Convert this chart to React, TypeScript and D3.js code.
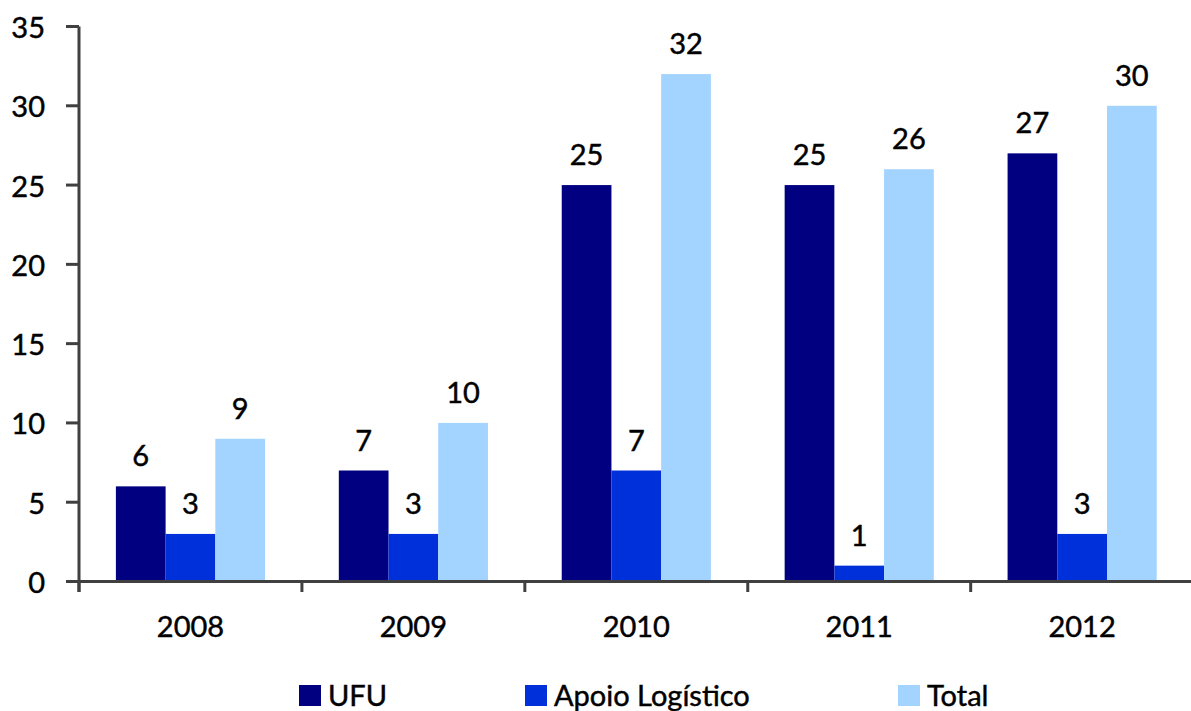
import React from "react";
import * as d3 from "d3";

const categories = ["2008", "2009", "2010", "2011", "2012"];
const seriesNames = ["UFU", "Apoio Logístico", "Total"];
const ufu = [6, 7, 25, 25, 27];
const apoio = [3, 3, 7, 1, 3];
const total = [9, 10, 32, 26, 30];
const yTicks = [0, 5, 10, 15, 20, 25, 30, 35];
const colors = ["#000080", "#0030DA", "#A3D3FF"];

const W = 1191;
const H = 711;
const FONT = "Lato, 'Open Sans', sans-serif";

// Slightly heavier text rendering via a thin outline
const textStyle = { stroke: "#000", strokeWidth: 0.45 };

export default function App() {
  const values = [ufu, apoio, total];
  const y = d3.scaleLinear().domain([0, 35]).range([581.5, 26.5]);
  const x = d3.scaleBand<string>().domain(categories).range([79, 1193.6]).padding(0);
  const step = x.bandwidth();
  const groupPad = step * 0.1655;
  const xs = d3
    .scaleBand<string>()
    .domain(seriesNames)
    .range([groupPad, step - groupPad])
    .padding(0);
  const axisColor = "#404040";
  const boundaries = categories.map((c) => x(c) as number).concat([x.range()[1]]);
  const legendX = [299, 525, 898];

  return (
    <svg
      width={W}
      height={H}
      style={{ position: "absolute", left: 0, top: 0, display: "block", background: "#fff" }}
      fontFamily={FONT}
    >
      {/* bars */}
      {categories.map((c, ci) =>
        seriesNames.map((s, si) => {
          const v = values[si][ci];
          const bx = (x(c) as number) + (xs(s) as number);
          return (
            <g key={c + s}>
              <rect
                x={bx}
                y={y(v)}
                width={xs.bandwidth()}
                height={y(0) - y(v)}
                fill={colors[si]}
              />
              <text
                x={bx + xs.bandwidth() / 2}
                y={y(v) - 20}
                textAnchor="middle"
                fontSize={29}
                fill="#000"
                style={textStyle}
              >
                {v}
              </text>
            </g>
          );
        })
      )}

      {/* y axis */}
      <line x1={79} x2={79} y1={y(35)} y2={592} stroke={axisColor} strokeWidth={3} />
      {yTicks.map((t) => (
        <g key={t}>
          <line x1={66} x2={79} y1={y(t)} y2={y(t)} stroke={axisColor} strokeWidth={3} />
          <text
            x={45}
            y={y(t)}
            textAnchor="end"
            dominantBaseline="central"
            fontSize={29}
            fill="#000"
            style={textStyle}
          >
            {t}
          </text>
        </g>
      ))}

      {/* x axis */}
      <line x1={79} x2={W} y1={y(0)} y2={y(0)} stroke={axisColor} strokeWidth={3} />
      {boundaries.map((b, i) => (
        <line key={i} x1={b} x2={b} y1={y(0)} y2={592} stroke={axisColor} strokeWidth={3} />
      ))}
      {categories.map((c) => (
        <text
          key={c}
          x={(x(c) as number) + step / 2}
          y={637}
          textAnchor="middle"
          fontSize={29}
          fill="#000"
          style={textStyle}
        >
          {c}
        </text>
      ))}

      {/* legend */}
      {seriesNames.map((s, i) => (
        <g key={s}>
          <rect x={legendX[i]} y={685} width={22} height={21} fill={colors[i]} />
          <text x={legendX[i] + 29} y={706} fontSize={29} fill="#000" style={textStyle}>
            {s}
          </text>
        </g>
      ))}
    </svg>
  );
}
